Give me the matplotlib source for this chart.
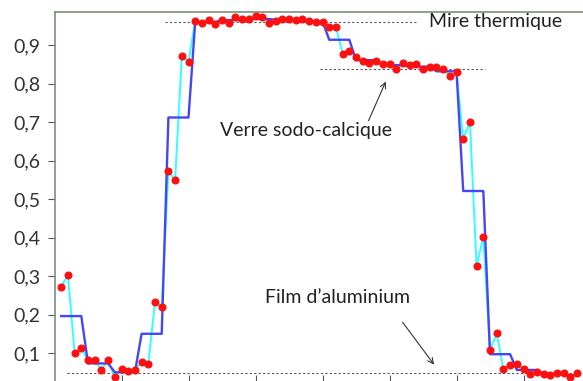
import numpy as np
import matplotlib
matplotlib.use('Agg')
import matplotlib.pyplot as plt
from matplotlib.ticker import FuncFormatter

# mesures (points rouges), indice 1..78
mesures = [0.272, 0.303, 0.100, 0.114, 0.081, 0.081, 0.057, 0.081, 0.038, 0.059,
           0.053, 0.057, 0.076, 0.072, 0.233, 0.220, 0.573, 0.549, 0.871, 0.857,
           0.963, 0.958, 0.965, 0.955, 0.965, 0.958, 0.972, 0.968, 0.968, 0.976,
           0.972, 0.958, 0.963, 0.968, 0.969, 0.965, 0.969, 0.962, 0.960, 0.960,
           0.948, 0.948, 0.877, 0.885, 0.870, 0.859, 0.854, 0.859, 0.850, 0.850,
           0.838, 0.854, 0.848, 0.850, 0.837, 0.842, 0.842, 0.838, 0.819, 0.830,
           0.656, 0.700, 0.326, 0.402, 0.107, 0.151, 0.059, 0.068, 0.071, 0.058,
           0.045, 0.051, 0.045, 0.042, 0.047, 0.047, 0.038, 0.047]

# paliers (ligne bleue), un niveau par groupe de 4 points
paliers = [0.196, 0.073, 0.050, 0.150, 0.712, 0.960, 0.965, 0.968, 0.966, 0.962,
           0.914, 0.861, 0.848, 0.844, 0.832, 0.521, 0.097, 0.056, 0.045, 0.042]
taille_palier = 4

# niveaux de reference (pointilles)
niveaux = {"mire": 0.961, "verre": 0.837, "film": 0.048}

yticks = [0.1, 0.2, 0.3, 0.4, 0.5, 0.6, 0.7, 0.8, 0.9]
xticks = [10, 20, 30, 40, 50, 60, 70]

x = np.arange(1, len(mesures) + 1)
y_palier = np.repeat(paliers, taille_palier)[:len(mesures)]

plt.rcParams['font.family'] = ['Lato', 'DejaVu Sans']

fig = plt.figure(figsize=(5.83, 3.81), dpi=100)
ax = fig.add_axes([0.0935, -0.0276, 0.9194, 0.996])

ax.plot(x, mesures, color='#33ffff', lw=1.4, zorder=2)
ax.plot(x, y_palier, color='#4646f5', lw=1.7, zorder=3)
ax.plot(x, mesures, 'o', color='#ff1010', ms=4.8, mec='#ff1010', zorder=4)

ax.plot([16.5, 54.0], [niveaux["mire"]] * 2, ls=(0, (2, 2)), color='#555555', lw=0.8, zorder=1)
ax.plot([39.6, 64.2], [niveaux["verre"]] * 2, ls=(0, (2, 2)), color='#555555', lw=0.8, zorder=1)
ax.plot([1.9, 80], [niveaux["film"]] * 2, ls=(0, (2, 2)), color='#555555', lw=0.8, zorder=1)

txt = dict(fontsize=14, color='#222222')
ax.text(55.9, 0.962, "Mire thermique", va='center', ha='left', **txt)
ax.text(37.6, 0.677, "Verre sodo-calcique", va='center', ha='center', **txt)
ax.text(42.2, 0.243, "Film d’aluminium", va='center', ha='center', **txt)

ax.annotate("", xy=(49.6, 0.812), xytext=(46.7, 0.697),
            arrowprops=dict(arrowstyle='->', color='#333333', lw=0.8))
ax.annotate("", xy=(56.9, 0.064), xytext=(51.7, 0.186),
            arrowprops=dict(arrowstyle='->', color='#333333', lw=0.8))

ax.set_xlim(0, 80)
ax.set_ylim(0, 0.986)
ax.set_yticks(yticks)
ax.yaxis.set_major_formatter(FuncFormatter(lambda v, p: f"{v:.1f}".replace('.', ',')))
ax.set_xticks(xticks)
ax.set_xticklabels([])
ax.tick_params(axis='y', direction='out', length=5, color='#555555', labelsize=14, labelcolor='#333333', pad=5)
ax.tick_params(axis='x', direction='in', length=12, color='#555555')

for s in ['left', 'top']:
    ax.spines[s].set_color('#7d8f7d')
    ax.spines[s].set_linewidth(1.2)
ax.spines['right'].set_visible(False)
ax.spines['bottom'].set_visible(False)

fig.savefig('out.png', dpi=100)
